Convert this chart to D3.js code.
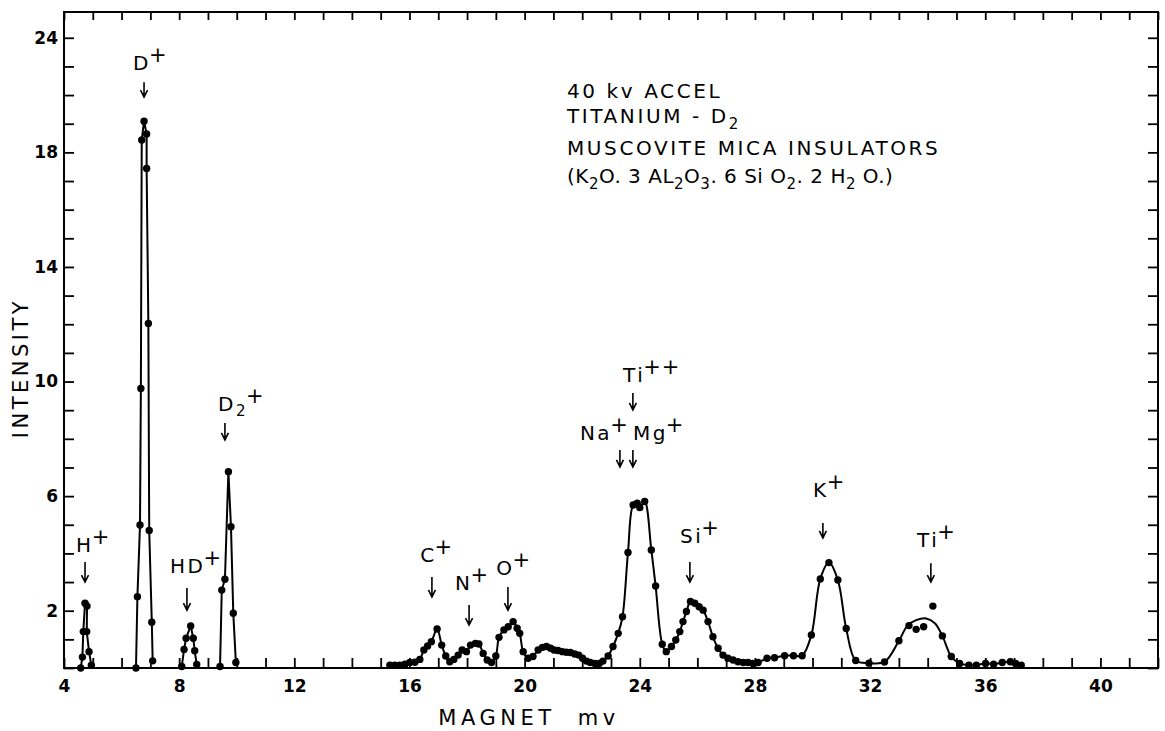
<!DOCTYPE html>
<html>
<head>
<meta charset="utf-8">
<script src="https://cdn.jsdelivr.net/npm/d3@7/dist/d3.min.js"></script>
<style>
  body { margin: 0; background: #fff; }
  svg { display: block; }
  text { font-family: "DejaVu Sans", sans-serif; fill: #000; white-space: pre; }
</style>
</head>
<body>
<div id="chart"></div>
<script>
// measured points [magnet mv, intensity]
const hPlus = [[4.58,0],[4.64,0.38],[4.67,1.27],[4.73,2.26],[4.8,2.16],[4.79,1.27],[4.87,0.57],[4.95,0.1]];
const dPlus = [[6.5,0],[6.55,2.49],[6.64,4.99],[6.67,9.76],[6.70,18.43],[6.78,19.09],[6.87,18.64],[6.87,17.44],[6.93,12.03],[6.96,4.8],[7.05,1.6],[7.08,0.25]];
const hdPlus = [[8.09,0.05],[8.17,0.65],[8.24,1.04],[8.4,1.47],[8.49,1.04],[8.54,0.6],[8.61,0.12]];
const d2Plus = [[9.42,0.05],[9.48,2.72],[9.59,3.1],[9.71,6.85],[9.8,4.93],[9.88,1.91],[9.97,0.19]];

// long scan 15 - 37 mv
const scan = [
  [15.32,0.10],[15.49,0.10],[15.66,0.10],[15.84,0.13],[16.01,0.19],[16.19,0.2],[16.36,0.30],[16.50,0.63],
  [16.63,0.77],[16.76,0.92],[16.96,1.36],[17.12,0.8],[17.26,0.42],[17.40,0.22],[17.54,0.30],[17.69,0.45],
  [17.83,0.63],[17.98,0.57],[18.12,0.80],[18.29,0.86],[18.41,0.84],[18.56,0.51],[18.70,0.28],[18.85,0.19],
  [19.00,0.42],[19.11,1.07],[19.28,1.33],[19.43,1.44],[19.60,1.62],[19.74,1.39],[19.83,1.21],[19.95,0.57],
  [20.12,0.34],[20.29,0.40],[20.47,0.63],[20.62,0.72],[20.76,0.75],[20.90,0.69],[21.02,0.63],[21.16,0.61],
  [21.31,0.57],[21.45,0.55],[21.59,0.54],[21.74,0.49],[21.88,0.45],[22.01,0.34],[22.15,0.24],[22.28,0.19],
  [22.44,0.16],[22.59,0.16],[22.72,0.24],[22.90,0.42],[23.07,0.75],[23.25,1.21],[23.40,1.79],[23.59,4.03],
  [23.77,5.69],[23.91,5.75],[24.0,5.6],[24.17,5.81],[24.40,4.12],[24.55,2.86],[24.78,0.83],[24.92,0.57],
  [25.10,0.75],[25.25,0.98],[25.39,1.27],[25.50,1.62],[25.62,1.97],[25.76,2.32],[25.91,2.26],[26.06,2.14],
  [26.20,2.02],[26.37,1.62],[26.54,1.09],[26.72,0.69],[26.89,0.45],[27.06,0.34],[27.24,0.28],[27.41,0.22],
  [27.59,0.19],[27.76,0.19],[27.93,0.16],[28.11,0.19],[28.42,0.34],[28.68,0.36],[29.03,0.43],[29.34,0.43],
  [29.64,0.43],[29.96,1.15],[30.27,3.11],[30.57,3.68],[30.88,3.07],[31.17,1.38],[31.5,0.26],[31.96,0.17],
  [32.5,0.21],[33.0,0.95],[33.35,1.48],[33.6,1.35],[33.86,1.44],[34.51,1.12],[34.82,0.40],[35.11,0.16],
  [35.43,0.10],[35.69,0.10],[36.01,0.16],[36.29,0.13],[36.59,0.19],[36.87,0.22],[37.05,0.16],[37.25,0.10]
];
// smooth curve drawn over the Ti+ peak
const tiFit = [[33.0,0.95],[33.3,1.48],[33.6,1.67],[33.95,1.73],[34.25,1.56],[34.51,1.12],[34.82,0.40]];
const tiOutlier = [[34.18,2.16]];

const xTicks = d3.range(4, 43);
const xTickLabels = [4, 8, 12, 16, 20, 24, 28, 32, 36, 40];
const yTicks = d3.range(0, 23);
const yTickPos = [2, 6, 10, 14, 18, 22];
const yTickText = ["2", "6", "10", "14", "18", "24"];

// peak labels: text start (tx,ty), arrow at ax from a0 down to a1
const notes = [
  {name:"H",  sup:"+",  tx:4.42,  ty:4.05,  ax:4.73,  a0:3.70, a1:3.00},
  {name:"D",  sup:"+",  tx:6.40,  ty:20.87, ax:6.78,  a0:20.45,a1:19.93},
  {name:"HD", sup:"+",  tx:7.68,  ty:3.32,  ax:8.27,  a0:2.79, a1:2.02},
  {name:"D",  sub:"2", sup:"+", tx:9.35, ty:8.97, ax:9.59, a0:8.55, a1:7.96},
  {name:"C",  sup:"+",  tx:16.37, ty:3.70,  ax:16.78, a0:3.18, a1:2.48},
  {name:"N",  sup:"+",  tx:17.58, ty:2.72,  ax:18.07, a0:2.20, a1:1.50},
  {name:"O",  sup:"+",  tx:19.01, ty:3.25,  ax:19.42, a0:2.83, a1:2.02},
  {name:"Ti", sup:"++", tx:23.42, ty:9.98,  ax:23.76, a0:9.60, a1:9.01},
  {name:"Na", sup:"+",  tx:21.92, ty:7.96,  ax:23.31, a0:7.61, a1:7.02},
  {name:"Mg", sup:"+",  tx:23.76, ty:7.96,  ax:23.76, a0:7.61, a1:7.02},
  {name:"Si", sup:"+",  tx:25.40, ty:4.36,  ax:25.74, a0:3.70, a1:3.00},
  {name:"K",  sup:"+",  tx:30.02, ty:5.97,  ax:30.36, a0:5.06, a1:4.54},
  {name:"Ti", sup:"+",  tx:33.63, ty:4.22,  ax:34.11, a0:3.66, a1:3.00}
];

const infoLines = [
  [["40 kv ACCEL"]],
  [["TITANIUM - D"], ["2", "sub"]],
  [["MUSCOVITE MICA INSULATORS"]],
  [["(K"], ["2","sub"], ["O. 3 AL"], ["2","sub"], ["O"], ["3","sub"], [". 6 Si O"], ["2","sub"], [". 2 H"], ["2","sub"], [" O.)"]]
];

const width = 1165, height = 731;
const svg = d3.select("#chart").append("svg")
  .attr("width", width).attr("height", height);

const x = d3.scaleLinear().domain([4, 42]).range([64, 1158]);
const y = d3.scaleLinear().domain([0, 22.9]).range([668, 12]);

// frame
svg.append("rect")
  .attr("x", x(4)).attr("y", y(22.9))
  .attr("width", x(42) - x(4)).attr("height", y(0) - y(22.9))
  .attr("fill", "none").attr("stroke", "#000").attr("stroke-width", 2);

function styleAxis(g){
  g.select(".domain").remove();
  g.selectAll(".tick line").attr("stroke", "#000").attr("stroke-width", 1.8);
  g.selectAll("text")
    .attr("font-size", 17).attr("font-weight", "bold")
    .style("font-family", "'DejaVu Sans', sans-serif").attr("fill", "#000");
}

svg.append("g").attr("transform", `translate(0,${y(0)})`)
  .call(d3.axisBottom(x).tickValues(xTicks).tickSize(-10).tickPadding(12)
    .tickFormat(d => xTickLabels.includes(d) ? d : ""))
  .call(styleAxis);
svg.append("g").attr("transform", `translate(0,${y(22.9)})`)
  .call(d3.axisTop(x).tickValues(xTicks).tickSize(-8).tickFormat(""))
  .call(styleAxis);
svg.append("g").attr("transform", `translate(${x(4)},0)`)
  .call(d3.axisLeft(y).tickValues(yTicks).tickSize(-10).tickPadding(6)
    .tickFormat(d => { const i = yTickPos.indexOf(d); return i < 0 ? "" : yTickText[i]; }))
  .call(styleAxis);
svg.append("g").attr("transform", `translate(${x(42)},0)`)
  .call(d3.axisRight(y).tickValues(yTicks).tickSize(-10).tickFormat(""))
  .call(styleAxis);

// axis titles
svg.append("text")
  .attr("x", 529).attr("y", 725).attr("text-anchor", "middle")
  .attr("font-size", 21).attr("letter-spacing", 4.5)
  .text("MAGNET  mv");
svg.append("text")
  .attr("transform", "translate(28,368) rotate(-90)").attr("text-anchor", "middle")
  .attr("font-size", 21).attr("letter-spacing", 3.5)
  .text("INTENSITY");

// traces
const lin = d3.line().x(d => x(d[0])).y(d => y(d[1]));
const smooth = d3.line().x(d => x(d[0])).y(d => y(d[1])).curve(d3.curveCatmullRom.alpha(0.5));

[hPlus, dPlus, hdPlus, d2Plus].forEach(p => {
  svg.append("path").attr("d", lin(p))
    .attr("fill", "none").attr("stroke", "#000").attr("stroke-width", 2);
});

const scanTrace = scan.filter(d => d[0] < 33.0)
  .concat(tiFit)
  .concat(scan.filter(d => d[0] > 34.82));
svg.append("path").attr("d", smooth(scanTrace))
  .attr("fill", "none").attr("stroke", "#000").attr("stroke-width", 2);

const allDots = [].concat(hPlus, dPlus, hdPlus, d2Plus, scan, tiOutlier);
svg.append("g").selectAll("circle").data(allDots).join("circle")
  .attr("cx", d => x(d[0])).attr("cy", d => y(d[1])).attr("r", 3.7)
  .attr("fill", "#000");

// peak labels and arrows
notes.forEach(n => {
  const t = svg.append("text")
    .attr("x", x(n.tx)).attr("y", y(n.ty))
    .attr("font-size", 20).attr("letter-spacing", 2.5);
  t.append("tspan").text(n.name);
  let shift = 0;
  if (n.sub) {
    t.append("tspan").attr("dy", 5).attr("font-size", 15).text(n.sub);
    shift = 5;
  }
  t.append("tspan")
    .attr("dx", -2)
    .attr("dy", -8 - shift).attr("font-size", 21).attr("letter-spacing", 1).text(n.sup);

  const ax = x(n.ax), top = y(n.a0), bot = y(n.a1);
  svg.append("path")
    .attr("d", `M${ax},${top}L${ax},${bot}M${ax - 3.5},${bot - 7}L${ax},${bot}L${ax + 3.5},${bot - 7}`)
    .attr("fill", "none").attr("stroke", "#000").attr("stroke-width", 1.6);
});

// run info
const infoX = 567, infoY = [98, 123, 155, 183], infoSpacing = [2.6, 2.6, 2.6, 0.5];
infoLines.forEach((parts, i) => {
  const t = svg.append("text")
    .attr("x", infoX).attr("y", infoY[i])
    .attr("font-size", 20).attr("letter-spacing", infoSpacing[i]);
  let shift = 0;
  parts.forEach(p => {
    const s = p[1] === "sub" ? 6 : 0;
    const ts = t.append("tspan").attr("dy", s - shift).text(p[0]);
    if (s) ts.attr("font-size", 15);
    shift = s;
  });
});
</script>
</body>
</html>
